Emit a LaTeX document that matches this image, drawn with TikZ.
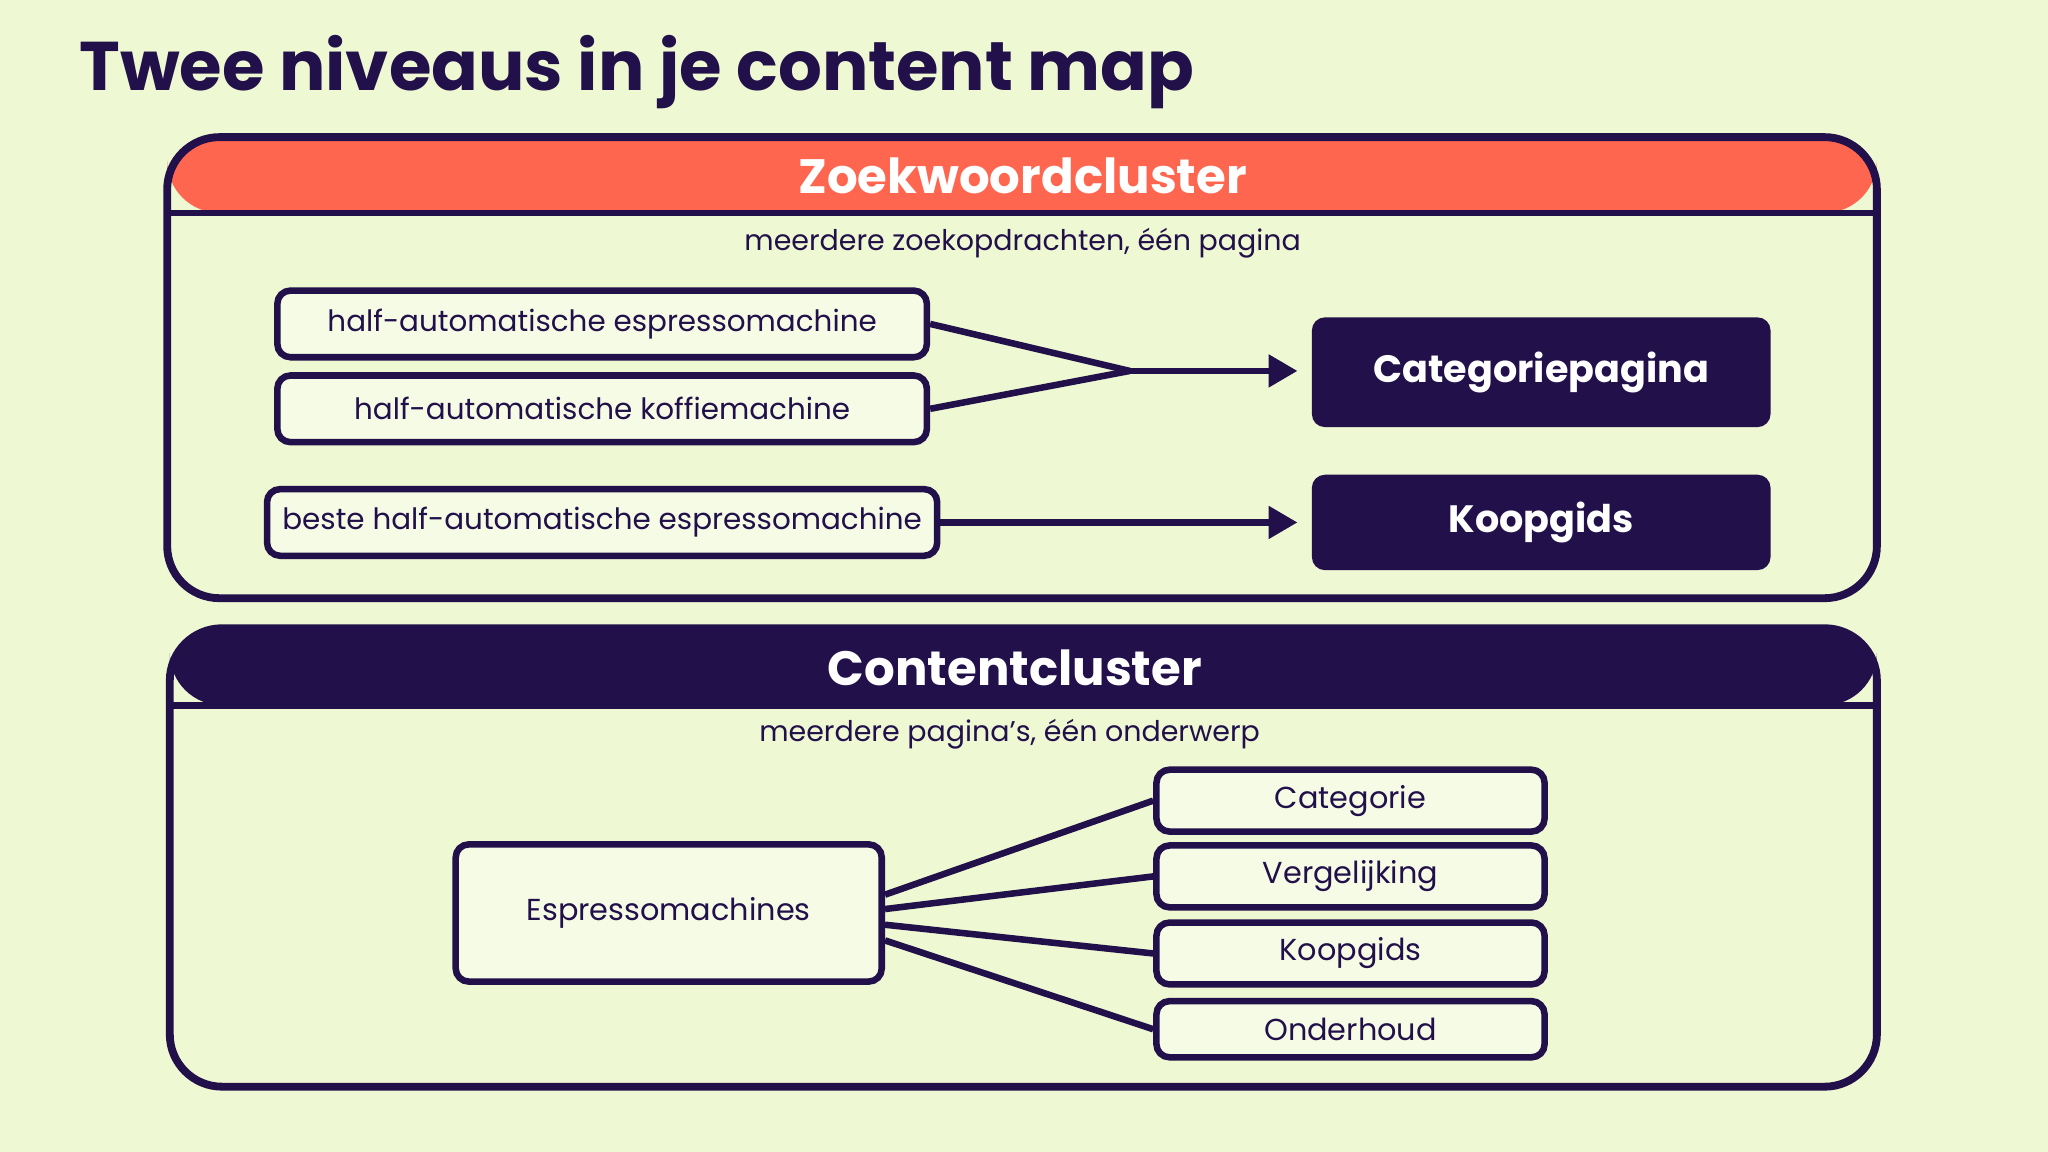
\documentclass[tikz,border=0pt]{standalone}
\usepackage{fontspec}
\setmainfont{Poppins}
\usetikzlibrary{arrows.meta,positioning}
\definecolor{bgc}{HTML}{EEF8D3}
\definecolor{ink}{HTML}{22104A}
\definecolor{coral}{HTML}{FF6650}
\definecolor{boxc}{HTML}{F6FBE6}
\begin{document}
\begin{tikzpicture}[
		x=0.01cm, y=-0.01cm,
		line width=0.6mm,
		panel/.style={draw=ink, rounded corners=4mm},
		kw/.style={draw=ink, fill=boxc, rounded corners=1mm, line width=0.5mm,
			minimum width=4.97cm, minimum height=0.51cm, text=ink,
			font=\fontsize{6.4}{7}\selectfont},
		page/.style={fill=ink, rounded corners=1mm, minimum width=3.51cm,
			text=white, font=\bfseries\fontsize{8.3}{9}\selectfont},
		sub/.style={draw=ink, fill=boxc, rounded corners=1mm, line width=0.5mm,
			minimum width=2.97cm, minimum height=0.43cm, text=ink,
			font=\fontsize{6.6}{7}\selectfont},
		head/.style={text=white, font=\bfseries\fontsize{10.5}{12}\selectfont},
		desc/.style={text=ink, font=\fontsize{6.2}{7}\selectfont},
		link/.style={draw=ink, line width=0.5mm},
		arr/.style={link, -{Triangle[length=2.2mm,width=2.4mm]}}
		]
	
	% Background
	\fill[bgc] (0, 0) rectangle (1568, 882);
	\node[anchor=west, text=ink, font=\bfseries\fontsize{15}{18}\selectfont] (title) at (46, 55) {Twee niveaus in je content map};
	
	% Zoekwoordcluster
	\fill[coral, rounded corners=4mm] (128, 163) |- (1437, 105) -- (1437, 163) -- cycle;
	\draw[panel] (128, 105) rectangle (1437, 458);
	\draw[link] (128, 163) -- (1437, 163);
	\node[head] (zkhead) at (783, 135) {Zoekwoordcluster};
	\node[desc] (zkdesc) at (783, 186) {meerdere zoekopdrachten, één pagina};
	
	\node[kw] (kw1) at (461, 248) {half-automatische espressomachine};
	\node[kw] (kw2) at (461, 313) {half-automatische koffiemachine};
	\node[kw] (kw3) at (461, 400) {beste half-automatische espressomachine};
	\node[page, minimum height=0.84cm] (cat) at (1180, 285) {Categoriepagina};
	\node[page, minimum height=0.73cm] (koop) at (1180, 400) {Koopgids};
	
	\coordinate (merge) at (865, 284);
	\draw[link] (kw1.east) -- (merge);
	\draw[link] (kw2.east) -- (merge);
	\draw[arr] (merge) -- ([xshift=-0.08cm]cat.west |- merge);
	\draw[arr] (kw3.east) -- ([xshift=-0.08cm]koop.west);
	
	% Contentcluster
	\fill[ink, rounded corners=4mm] (130, 540) |- (1437, 481) -- (1437, 540) -- cycle;
	\draw[panel] (130, 481) rectangle (1437, 832);
	\draw[link] (130, 540) -- (1437, 540);
	\node[head] (cchead) at (777, 511) {Contentcluster};
	\node[desc] (ccdesc) at (773, 562) {meerdere pagina's, één onderwerp};
	
	\node[sub, minimum width=3.26cm, minimum height=1.05cm] (espr) at (512, 699) {Espressomachines};
	\foreach \name/\label/\y in {c1/Categorie/613, c2/Vergelijking/671, c3/Koopgids/730, c4/Onderhoud/788}{
		\node[sub] (\name) at (1034, \y) {\label};
	}
	\draw[link] ([yshift=0.14cm]espr.east) -- (c1.west);
	\draw[link] ([yshift=0.03cm]espr.east) -- (c2.west);
	\draw[link] ([yshift=-0.09cm]espr.east) -- (c3.west);
	\draw[link] ([yshift=-0.21cm]espr.east) -- (c4.west);
	
\end{tikzpicture}
\end{document}
